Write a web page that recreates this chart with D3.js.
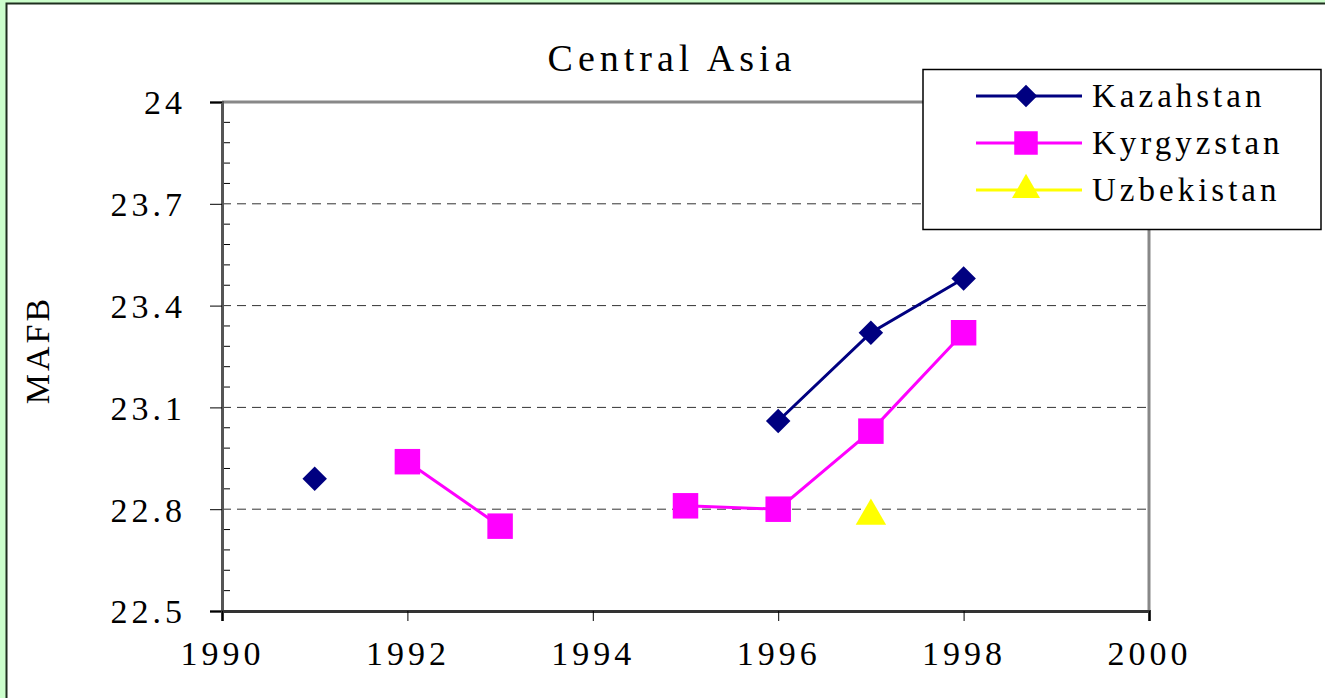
<!DOCTYPE html>
<html lang="en">
<head>
    <meta charset="UTF-8">
    <script src="https://d3js.org/d3.v7.min.js"></script>
    <style>
        html, body {
            margin: 0;
            padding: 0;
            background: #ccffcc;
            overflow: hidden;
        }
        svg text {
            font-family: "Times New Roman", "Liberation Serif", serif;
            fill: #000;
        }
    </style>
</head>
<body>
    <svg id="chart" width="1325" height="698"></svg>
    <script>
        // data
        const years = [1991, 1992, 1993, 1994, 1995, 1996, 1997, 1998];
        const kazakhstan = [22.89, null, null, null, null, 23.06, 23.32, 23.48];
        const kyrgyzstan = [null, 22.94, 22.75, null, 22.81, 22.80, 23.03, 23.32];
        const uzbekistan = [null, null, null, null, null, null, 22.78, null];
        const yTicks = [22.5, 22.8, 23.1, 23.4, 23.7, 24];
        const xTicks = [1990, 1992, 1994, 1996, 1998, 2000];

        const series = [
            { name: "Kazahstan", values: kazakhstan, color: "#000080", marker: "diamond" },
            { name: "Kyrgyzstan", values: kyrgyzstan, color: "#ff00ff", marker: "square" },
            { name: "Uzbekistan", values: uzbekistan, color: "#ffff00", marker: "triangle" }
        ];

        // marker shapes
        function markerPath(kind, scale) {
            if (kind === "square") return d3.symbol().type(d3.symbolSquare).size(650 * scale)();
            if (kind === "triangle") return d3.symbol().type(d3.symbolTriangle).size(400 * scale)();
            return d3.symbol().type(d3.symbolSquare).size(300 * scale)();
        }

        const svg = d3.select("#chart");
        const margin = { left: 222, right: 1149, top: 102, bottom: 611 };

        // white panel
        svg.append("rect")
            .attr("x", 6.5).attr("y", 3.5)
            .attr("width", 1340).attr("height", 710)
            .attr("fill", "#fff")
            .attr("stroke", "#1f2f1f")
            .attr("stroke-width", 2);

        const x = d3.scaleLinear().domain([1990, 2000]).range([margin.left, margin.right]);
        const y = d3.scaleLinear().domain([22.5, 24]).range([margin.bottom, margin.top]);

        // grid lines
        svg.append("g").selectAll("line")
            .data(yTicks.filter(d => d > 22.5 && d < 24))
            .enter().append("line")
            .attr("x1", margin.left).attr("x2", margin.right)
            .attr("y1", d => y(d)).attr("y2", d => y(d))
            .attr("stroke", "#333")
            .attr("stroke-width", 1)
            .attr("stroke-dasharray", "9,6");

        // plot frame (top and right are grey)
        svg.append("path")
            .attr("d", `M${margin.left},${margin.top}H${margin.right}V${margin.bottom}`)
            .attr("fill", "none")
            .attr("stroke", "#888")
            .attr("stroke-width", 3);

        // minor y ticks, inside
        const minor = d3.range(0, 26).map(i => 22.5 + i * 0.06).filter(v => !yTicks.some(t => Math.abs(t - v) < 1e-6));
        svg.append("g").selectAll("line")
            .data(minor)
            .enter().append("line")
            .attr("x1", margin.left).attr("x2", margin.left + 8)
            .attr("y1", d => y(d)).attr("y2", d => y(d))
            .attr("stroke", "#000");

        // y axis
        const yAxis = svg.append("g")
            .attr("transform", `translate(${margin.left},0)`)
            .call(d3.axisLeft(y).tickValues(yTicks).tickSize(12).tickPadding(24)
                .tickFormat(d => String(d)));
        yAxis.select(".domain").attr("stroke", "#555").attr("stroke-width", 3);
        yAxis.selectAll(".tick line").attr("stroke", "#000");
        yAxis.selectAll("text")
            .attr("font-size", 34)
            .attr("letter-spacing", 4)
            .attr("dy", "0.35em");

        // x axis
        const xAxis = svg.append("g")
            .attr("transform", `translate(0,${margin.bottom})`)
            .call(d3.axisBottom(x).tickValues(xTicks).tickSize(10).tickPadding(20)
                .tickFormat(d3.format("d")));
        xAxis.select(".domain").attr("stroke", "#333").attr("stroke-width", 3);
        xAxis.selectAll(".tick line").attr("stroke", "#000");
        xAxis.selectAll("text")
            .attr("font-size", 34)
            .attr("letter-spacing", 4)
            .attr("dy", "0.71em");

        // lines and markers
        const line = d3.line()
            .defined(d => d[1] !== null)
            .x(d => x(d[0]))
            .y(d => y(d[1]));

        series.forEach(s => {
            const pts = years.map((yr, i) => [yr, s.values[i]]);
            svg.append("path")
                .datum(pts)
                .attr("d", line)
                .attr("fill", "none")
                .attr("stroke", s.color)
                .attr("stroke-width", 3);
            svg.append("g").selectAll("path")
                .data(pts.filter(d => d[1] !== null))
                .enter().append("path")
                .attr("transform", d => `translate(${x(d[0])},${y(d[1])})` + (s.marker === "diamond" ? " rotate(45)" : ""))
                .attr("d", markerPath(s.marker, 1))
                .attr("fill", s.color);
        });

        // title
        svg.append("text")
            .attr("x", 672).attr("y", 71)
            .attr("text-anchor", "middle")
            .attr("font-size", 38)
            .attr("letter-spacing", 5)
            .text("Central Asia");

        // y label
        svg.append("text")
            .attr("transform", "translate(49,350) rotate(-90)")
            .attr("text-anchor", "middle")
            .attr("font-size", 34)
            .attr("letter-spacing", 3)
            .text("MAFB");

        // legend
        const legend = svg.append("g");
        legend.append("rect")
            .attr("x", 923).attr("y", 69.5)
            .attr("width", 398).attr("height", 160)
            .attr("fill", "#fff")
            .attr("stroke", "#000")
            .attr("stroke-width", 1.5);
        series.forEach((s, i) => {
            const ly = 96 + i * 47;
            legend.append("line")
                .attr("x1", 976).attr("x2", 1082)
                .attr("y1", ly).attr("y2", ly)
                .attr("stroke", s.color)
                .attr("stroke-width", 3);
            legend.append("path")
                .attr("transform", `translate(1026,${ly})` + (s.marker === "diamond" ? " rotate(45)" : ""))
                .attr("d", markerPath(s.marker, 0.85))
                .attr("fill", s.color);
            legend.append("text")
                .attr("x", 1092).attr("y", ly + 11)
                .attr("font-size", 33)
                .attr("letter-spacing", 4)
                .text(s.name);
        });
    </script>
</body>
</html>
